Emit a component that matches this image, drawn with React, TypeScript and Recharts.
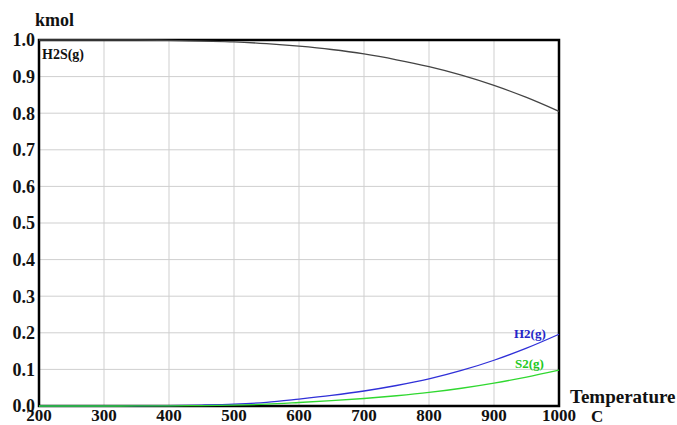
import React from 'react';
import { LineChart, Line, XAxis, YAxis, CartesianGrid, ReferenceArea } from 'recharts';

const temps = [200, 250, 300, 350, 400, 450, 500, 550, 600, 650, 700, 750, 800, 850, 900, 950, 1000];
const h2s = [1, 1, 1, 1, 0.999, 0.997, 0.995, 0.99, 0.983, 0.974, 0.962, 0.946, 0.927, 0.904, 0.876, 0.843, 0.805];
const h2 = [0, 0, 0, 0.0003, 0.001, 0.0025, 0.005, 0.01, 0.019, 0.029, 0.041, 0.056, 0.074, 0.097, 0.125, 0.158, 0.196];
const s2 = [0, 0, 0, 0.00015, 0.0005, 0.00125, 0.0025, 0.005, 0.0095, 0.0145, 0.0205, 0.028, 0.037, 0.0485, 0.0625, 0.079, 0.098];

const xTicks = [200, 300, 400, 500, 600, 700, 800, 900, 1000];
const yTicks = [0, 0.1, 0.2, 0.3, 0.4, 0.5, 0.6, 0.7, 0.8, 0.9, 1.0];

const data = temps.map((t, i) => ({ t, h2s: h2s[i], h2: h2[i], s2: s2[i] }));

const font = '"Liberation Serif", "Times New Roman", serif';
const yTickStyle = { fontFamily: font, fontWeight: 'bold', fontSize: 18, fill: '#111' };
const xTickStyle = { fontFamily: font, fontWeight: 'bold', fontSize: 17, fill: '#111' };

const txt = (left: number, top: number, size: number, color: string): React.CSSProperties => ({
  position: 'absolute',
  left,
  top,
  fontFamily: font,
  fontWeight: 'bold',
  fontSize: size,
  color,
  lineHeight: 1,
  whiteSpace: 'nowrap',
});

export default function App() {
  return (
    <div style={{ position: 'absolute', left: 0, top: 0, width: 677, height: 425, background: '#fff' }}>
      <LineChart width={677} height={425} data={data} margin={{ top: 40, right: 118, bottom: 0, left: 0 }}>
        <CartesianGrid stroke="#cfcfcf" strokeWidth={1} />
        <XAxis
          dataKey="t"
          type="number"
          domain={[200, 1000]}
          ticks={xTicks}
          height={19}
          tickSize={0}
          tickMargin={3}
          axisLine={false}
          tick={xTickStyle}
          interval={0}
        />
        <YAxis
          type="number"
          domain={[0, 1]}
          ticks={yTicks}
          width={39}
          tickSize={0}
          tickMargin={4}
          axisLine={false}
          tick={yTickStyle}
          tickFormatter={(v: number) => v.toFixed(1)}
          interval={0}
        />
        <Line type="monotone" dataKey="h2s" stroke="#444" strokeWidth={1.3} dot={false} isAnimationActive={false} />
        <Line type="monotone" dataKey="h2" stroke="#3030d8" strokeWidth={1.3} dot={false} isAnimationActive={false} />
        <Line type="monotone" dataKey="s2" stroke="#30d830" strokeWidth={1.3} dot={false} isAnimationActive={false} />
        <ReferenceArea x1={200} x2={1000} y1={0} y2={1} fill="none" stroke="#000" strokeWidth={2.5} ifOverflow="visible" />
      </LineChart>
      <div style={txt(35, 11, 18, '#111')}>kmol</div>
      <div style={txt(42, 48, 14, '#111')}>H2S(g)</div>
      <div style={txt(514, 327, 13, '#2525c8')}>H2(g)</div>
      <div style={txt(515, 357, 13, '#22c822')}>S2(g)</div>
      <div style={txt(570, 387, 19, '#111')}>Temperature</div>
      <div style={txt(591, 408, 17, '#111')}>C</div>
    </div>
  );
}
